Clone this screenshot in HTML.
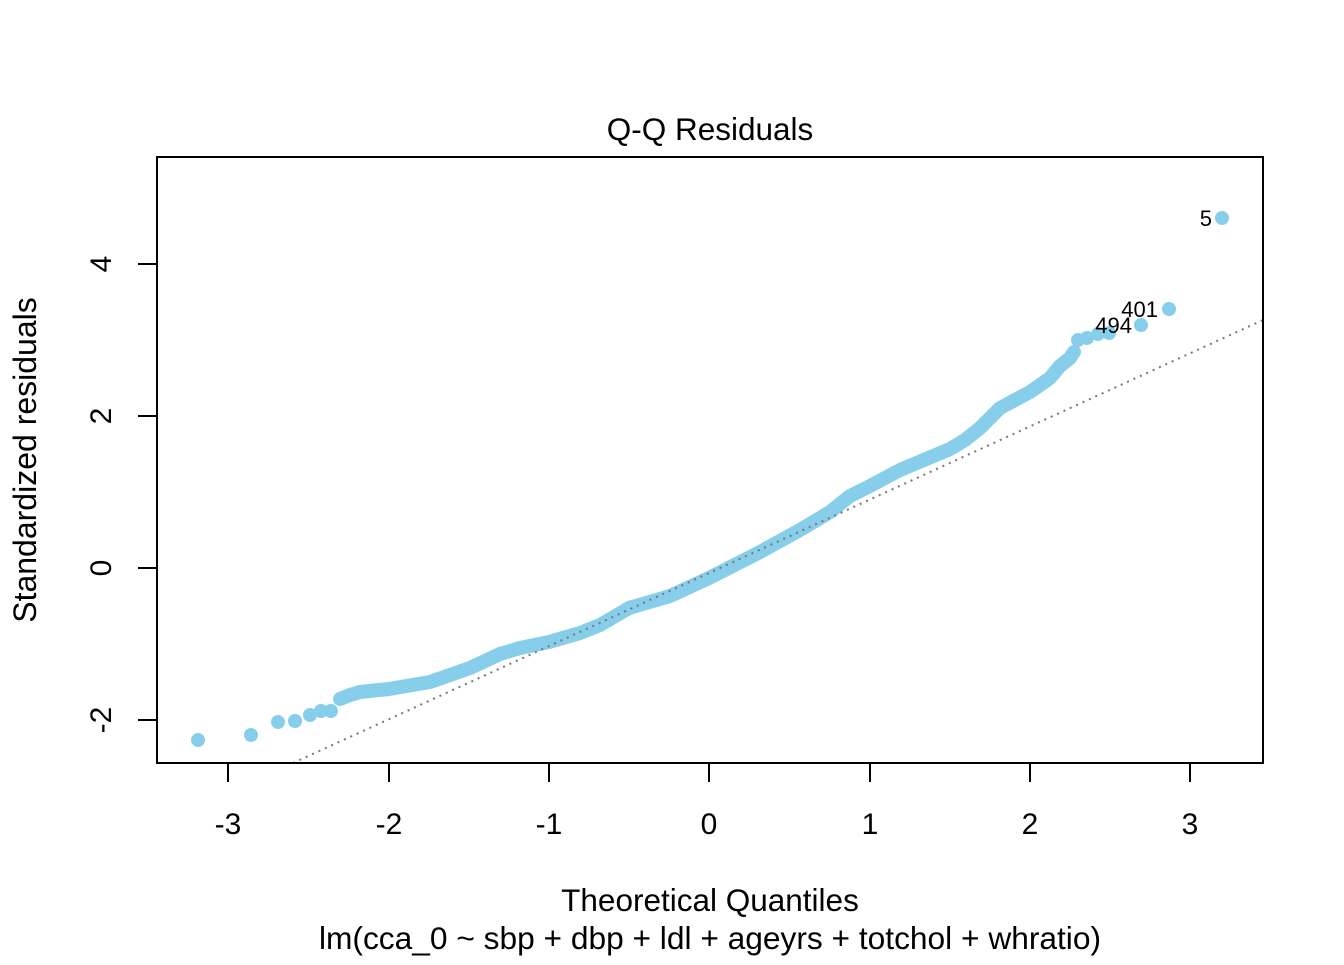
<!DOCTYPE html>
<html><head><meta charset="utf-8"><style>
html,body{margin:0;padding:0;background:#fff;}
svg text{font-family:"Liberation Sans",Arial,sans-serif;fill:#000;}
</style></head><body>
<svg width="1344" height="960" viewBox="0 0 1344 960" xmlns="http://www.w3.org/2000/svg">
<rect width="1344" height="960" fill="#fff"/>
<g fill="#87CEEB">
<circle cx="198" cy="740" r="7"/><circle cx="251" cy="735" r="7"/><circle cx="278" cy="722" r="7"/>
<circle cx="295" cy="721" r="7"/><circle cx="310" cy="715" r="7"/><circle cx="321" cy="711" r="7"/>
<circle cx="331" cy="711" r="7"/>
<circle cx="1078" cy="340" r="7"/><circle cx="1087" cy="338" r="7"/><circle cx="1098" cy="334" r="7"/>
<circle cx="1109" cy="333" r="7"/><circle cx="1141" cy="325" r="7"/><circle cx="1169" cy="309" r="7"/>
<circle cx="1222" cy="218" r="7"/>
</g>
<polyline fill="none" stroke="#87CEEB" stroke-width="14" stroke-linejoin="round" stroke-linecap="round"
points="340,699 350,695 360,692 389,689 430,682 470,668 500,654 520,648 549,642 580,633 600,625 612,618 629,608 670,596 709,578 760,552 800,530 830,512 850,496 870,486 900,470 950,449 965,440 980,428 1000,408 1030,392 1050,378 1060,366 1070,358 1074,352"/>
<line x1="293" y1="763" x2="1263" y2="320" stroke="#777" stroke-width="2" stroke-dasharray="2,5"/>
<rect x="157" y="157" width="1106" height="606" fill="none" stroke="#000" stroke-width="2"/>
<g stroke="#000" stroke-width="2">
<line x1="228" y1="763" x2="228" y2="782"/><line x1="389" y1="763" x2="389" y2="782"/>
<line x1="549" y1="763" x2="549" y2="782"/><line x1="709" y1="763" x2="709" y2="782"/>
<line x1="870" y1="763" x2="870" y2="782"/><line x1="1030" y1="763" x2="1030" y2="782"/>
<line x1="1190" y1="763" x2="1190" y2="782"/>
<line x1="138" y1="264" x2="157" y2="264"/><line x1="138" y1="416" x2="157" y2="416"/>
<line x1="138" y1="568" x2="157" y2="568"/><line x1="138" y1="720" x2="157" y2="720"/>
</g>
<g font-size="30" text-anchor="middle">
<text x="228" y="834">-3</text><text x="389" y="834">-2</text><text x="549" y="834">-1</text>
<text x="709" y="834">0</text><text x="870" y="834">1</text><text x="1030" y="834">2</text>
<text x="1190" y="834">3</text>
<text transform="translate(111,264) rotate(-90)">4</text>
<text transform="translate(111,416) rotate(-90)">2</text>
<text transform="translate(111,568) rotate(-90)">0</text>
<text transform="translate(111,720) rotate(-90)">-2</text>
<text transform="translate(36,460) rotate(-90)" font-size="32">Standardized residuals</text>
<text x="710" y="140" font-size="31.5">Q-Q Residuals</text>
<text x="710" y="911" font-size="31.5">Theoretical Quantiles</text>
<text x="710" y="949" font-size="31.7">lm(cca_0 ~ sbp + dbp + ldl + ageyrs + totchol + whratio)</text>
</g>
<g font-size="22" text-anchor="end">
<text x="1212" y="226">5</text>
<text x="1158" y="317">401</text>
<text x="1132" y="333">494</text>
</g>
</svg>
</body></html>
